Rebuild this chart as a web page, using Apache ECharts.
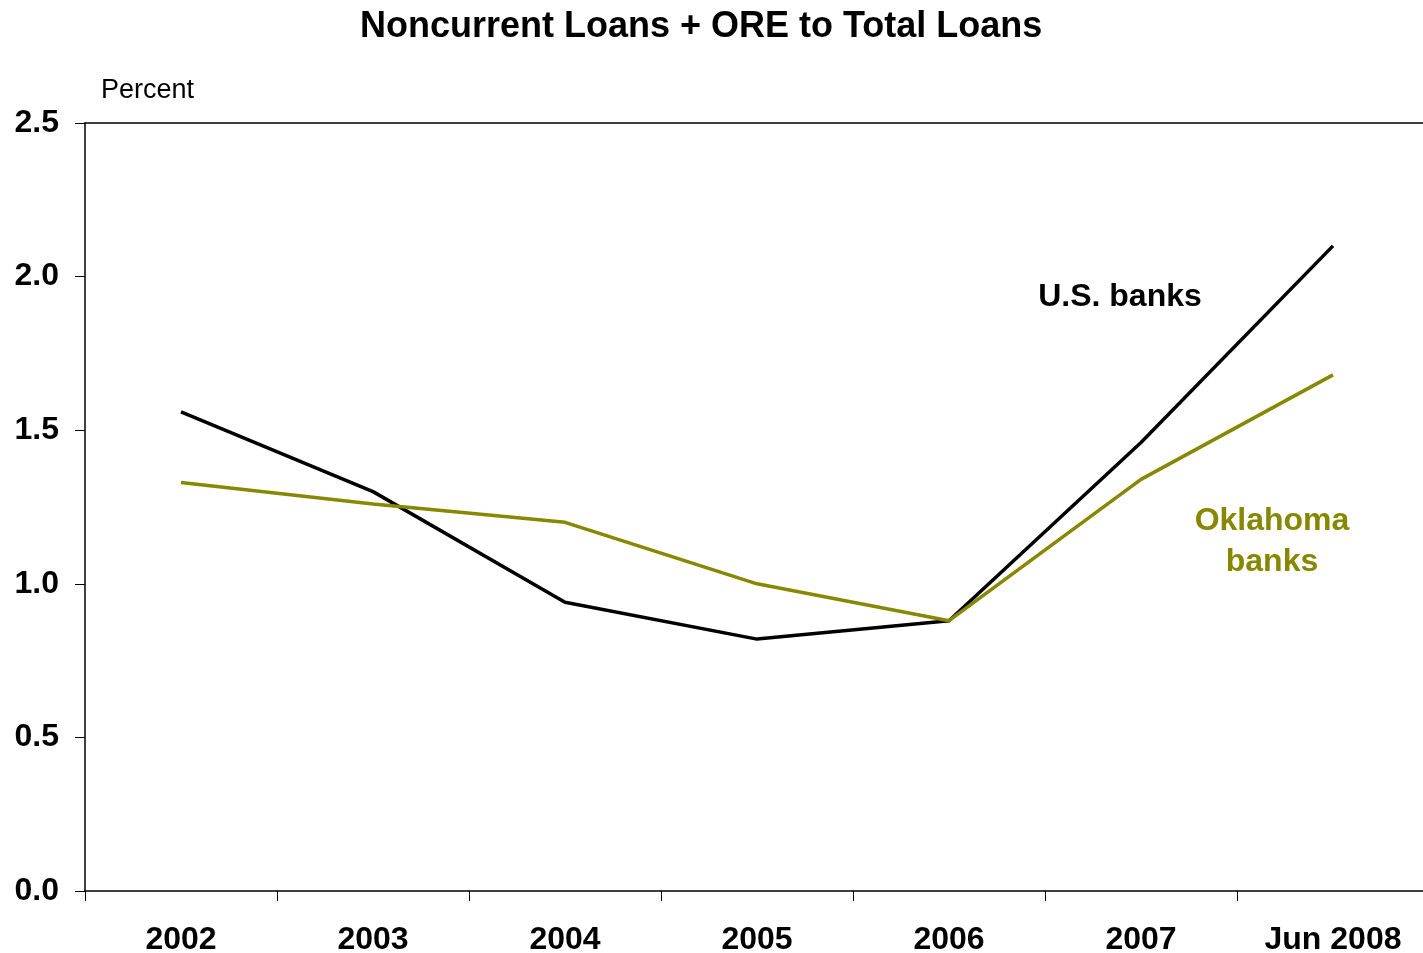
<!DOCTYPE html>
<html>
<head>
<meta charset="utf-8">
<script src="https://cdn.jsdelivr.net/npm/echarts@6/dist/echarts.min.js"></script>
<style>
html,body{margin:0;padding:0;background:#fff;overflow:hidden;}
#chart{width:1423px;height:953px;}
</style>
</head>
<body>
<div id="chart"></div>
<script>
const categories = ['2002','2003','2004','2005','2006','2007','Jun 2008'];
const usBanks = [1.56, 1.30, 0.94, 0.82, 0.88, 1.46, 2.10];
const oklahomaBanks = [1.33, 1.26, 1.20, 1.00, 0.88, 1.34, 1.68];
const yTicks = [0, 0.5, 1.0, 1.5, 2.0, 2.5];

const FONT = '"Liberation Sans", Arial, sans-serif';
const OLIVE = '#878700';

const chart = echarts.init(document.getElementById('chart'));
chart.setOption({
  backgroundColor: '#fff',
  animation: false,
  title: {
    text: 'Noncurrent Loans + ORE to Total Loans',
    left: 355,
    top: 4,
    textStyle: {fontFamily: FONT, fontWeight: 'bold', fontSize: 36, color: '#000'}
  },
  grid: {left: 85, top: 123, width: 1344, height: 768, containLabel: false, outerBoundsMode: 'none'},
  xAxis: [{
    type: 'category',
    data: categories,
    boundaryGap: true,
    axisLine: {show: true, lineStyle: {color: '#000', width: 1.5}},
    axisTick: {show: true, inside: false, length: 10, alignWithLabel: false, lineStyle: {color: '#000', width: 1}},
    axisLabel: {fontFamily: FONT, fontWeight: 'bold', fontSize: 32, color: '#000', margin: 33, interval: 0},
    splitLine: {show: false}
  }, {
    type: 'category',
    data: categories,
    position: 'top',
    axisLine: {show: true, lineStyle: {color: '#000', width: 1.5}},
    axisTick: {show: false},
    axisLabel: {show: false},
    splitLine: {show: false}
  }],
  yAxis: {
    type: 'value',
    min: yTicks[0],
    max: yTicks[yTicks.length - 1],
    interval: 0.5,
    axisLine: {show: true, lineStyle: {color: '#000', width: 1.5}},
    axisTick: {show: true, inside: false, length: 10, lineStyle: {color: '#000', width: 1}},
    axisLabel: {fontFamily: FONT, fontWeight: 'bold', fontSize: 32, color: '#000', margin: 26,
      padding: [8, 0, 0, 0],
      formatter: v => v.toFixed(1)},
    splitLine: {show: false}
  },
  series: [{
    name: 'U.S. banks',
    type: 'line',
    data: usBanks,
    showSymbol: false,
    symbol: 'none',
    lineStyle: {color: '#000', width: 3.5},
    z: 3
  }, {
    name: 'Oklahoma banks',
    type: 'line',
    data: oklahomaBanks,
    showSymbol: false,
    symbol: 'none',
    lineStyle: {color: OLIVE, width: 3.5},
    z: 4
  }],
  graphic: [{
    type: 'text', left: 101, top: 77,
    style: {text: 'Percent', font: '27px ' + FONT, fill: '#000'}
  }, {
    type: 'text', x: 1120, y: 297,
    style: {text: 'U.S. banks', font: 'bold 32px ' + FONT, fill: '#000', textAlign: 'center', textVerticalAlign: 'middle'}
  }, {
    type: 'text', x: 1272, y: 542,
    style: {text: 'Oklahoma\nbanks', font: 'bold 32px ' + FONT, fill: OLIVE, textAlign: 'center', textVerticalAlign: 'middle', lineHeight: 41}
  }]
});
</script>
</body>
</html>
